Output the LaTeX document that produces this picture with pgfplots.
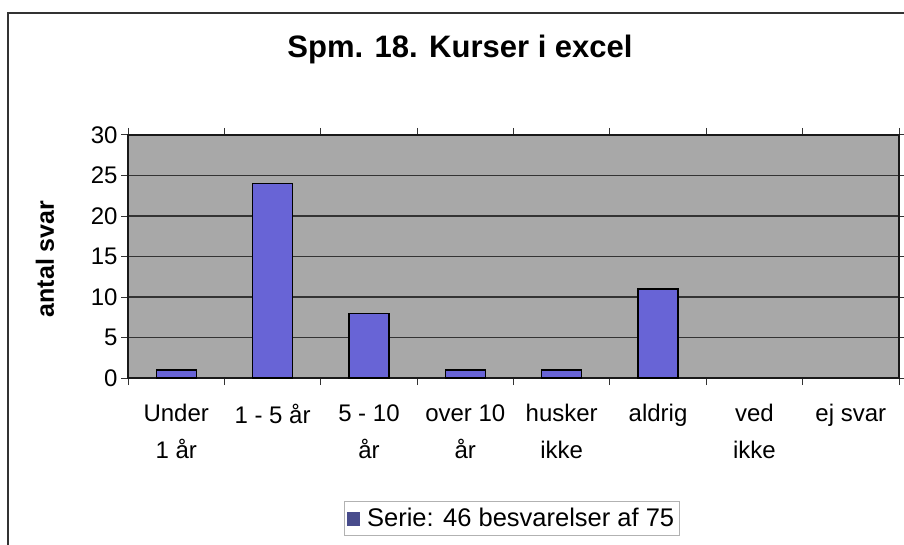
\documentclass[border=0pt]{standalone}
\usepackage{fontspec}
\setmainfont{Liberation Sans}
\usepackage{pgfplots}
\pgfplotsset{compat=1.18}
\definecolor{barblue}{RGB}{104,100,214}
\definecolor{plotgray}{RGB}{168,168,168}
\definecolor{legblue}{RGB}{72,76,140}
\begin{document}
\begin{tikzpicture}[x=1pt,y=1pt]
\draw[line width=1.8pt, black!80] (8,-20) -- (8,531) -- (930,531);
\node[font=\fontsize{31}{36}\selectfont\bfseries, anchor=base] at (460,486) {Spm. 18. Kurser i excel};
\begin{axis}[
  at={(128pt,166pt)}, anchor=south west,
  scale only axis, width=771pt, height=243pt,
  xmin=-0.5, xmax=7.5, ymin=0, ymax=30,
  ytick={0,5,...,30},
  xtick={0,...,7},
  xticklabels={Under\\1 år, 1 - 5 år, 5 - 10\\år, over 10\\år, husker\\ikke, aldrig, ved\\ikke, ej svar},
  xticklabel style={align=center, font=\fontsize{24}{37}\selectfont, yshift=-16pt},
  yticklabel style={font=\fontsize{24}{28}\selectfont},
  /pgf/number format/assume math mode=true,
  major x tick style={draw=none},
  minor xtick={-0.5,0.5,...,7.5},
  tick align=outside,
  major tick length=7pt, minor tick length=7pt,
  tick style={black!80, line width=1pt},
  axis background/.style={fill=plotgray},
  ymajorgrids,
  major grid style={black!80, line width=1.2pt},
  axis line style={black!90, line width=1.3pt},
  ylabel={antal svar},
  ylabel style={font=\fontsize{25}{28}\selectfont\bfseries, at={(axis description cs:-0.1077,0.49)}, anchor=center},
  legend style={at={(axis description cs:0.4975,-0.578)}, anchor=center, draw=black!30, line width=0.8pt, font=\fontsize{25.5}{30}\selectfont, inner xsep=3pt, inner ysep=5pt},
  legend image code/.code={\fill[legblue] (0pt,-7pt) rectangle (12pt,6pt);},
]
\addplot[ybar, bar width=40pt, fill=barblue, draw=black, line width=1.2pt]
  coordinates {(0,1) (1,24) (2,8) (3,1) (4,1) (5,11)};
\addlegendentry{\hspace{5pt}Serie: 46 besvarelser af 75}
\end{axis}
\pgfresetboundingbox
\path[use as bounding box] (0,0) rectangle (904,544);
\end{tikzpicture}
\end{document}
